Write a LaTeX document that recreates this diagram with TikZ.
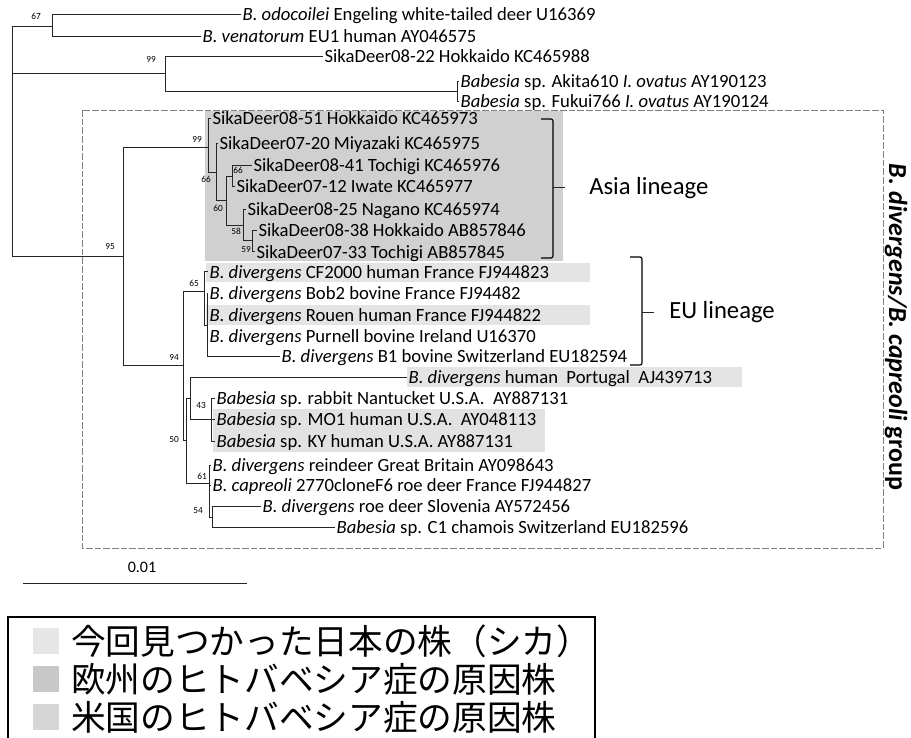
\documentclass[tikz,border=0pt]{standalone}
\usepackage{fontspec}
\setmainfont{Carlito}
\newfontfamily\jpfont{Noto Sans CJK JP}
\usetikzlibrary{positioning}
\definecolor{asiagray}{HTML}{D0D0D0}
\definecolor{eugray}{HTML}{E4E4E4}
\definecolor{usgray}{HTML}{E2E2E2}
\definecolor{keyjp}{HTML}{E6E6E6}
\definecolor{keyeu}{HTML}{C8C8C8}
\definecolor{keyus}{HTML}{D6D6D6}

\begin{document}
\begin{tikzpicture}[
  x=0.75pt, y=-0.75pt,
  taxon/.style={anchor=west, inner xsep=1pt, inner ysep=0pt,
                text height=9pt, text depth=0pt, font=\fontsize{14}{16}\selectfont},
  boot/.style={inner sep=0pt, font=\fontsize{7}{8}\selectfont},
  branch/.style={line width=0.75pt, draw=black!85},
  lineage/.style={anchor=west, inner sep=0pt, font=\fontsize{18.5}{20}\selectfont},
  brace/.style={line width=0.9pt, rounded corners=1.5pt},
  keybox/.style={minimum size=19pt, inner sep=0pt, draw=none},
  keytext/.style={anchor=west, inner sep=0pt, font=\jpfont\fontsize{26}{28}\selectfont}
]
\useasboundingbox (0,0) rectangle (911,738);

% highlighted strains
\fill[asiagray] (205,111) rectangle (563,261);
\fill[eugray] (206,263) rectangle (590,282);
\fill[eugray] (206,305) rectangle (590,325);
\fill[eugray] (407,367) rectangle (742,387);
\fill[usgray] (213,409) rectangle (545,452);

% group frame
\draw[gray, dash pattern=on 5pt off 1.5pt, line width=0.5pt] (82,110) rectangle (883,548);

% internal nodes
\coordinate (root) at (12,143);
\coordinate (n67) at (52,27);
\coordinate (n99b) at (165,74);
\coordinate (nbab) at (457,92);
\coordinate (n95) at (123,257);
\coordinate (nasia) at (208,148);
\coordinate (n66a) at (216,173);
\coordinate (n60) at (226,201);
\coordinate (n66b) at (232,177);
\coordinate (n58) at (243,226);
\coordinate (n59) at (252,241);
\coordinate (n94) at (183,365);
\coordinate (n65) at (204,292);
\coordinate (neu) at (207,325);
\coordinate (n50) at (186,440);
\coordinate (nx) at (190,398);
\coordinate (n43) at (211,419);
\coordinate (n61) at (209,483);
\coordinate (n54) at (212,517);

% taxa
\node[taxon] (odo) at (241,15) {\textit{B. odocoilei} Engeling white-tailed deer U16369};
\node[taxon] (ven) at (201,37) {\textit{B. venatorum} EU1 human AY046575};
\node[taxon] (sd0822) at (323,57) {SikaDeer08-22 Hokkaido KC465988};
\node[taxon] (akita) at (459,82) {\textit{Babesia} sp. Akita610 \textit{I. ovatus} AY190123};
\node[taxon] (fukui) at (459,102) {\textit{Babesia} sp. Fukui766 \textit{I. ovatus} AY190124};
\node[taxon] (sd0851) at (211,119) {SikaDeer08-51 Hokkaido KC465973};
\node[taxon] (sd0720) at (218,144) {SikaDeer07-20 Miyazaki KC465975};
\node[taxon] (sd0841) at (252,166) {SikaDeer08-41 Tochigi KC465976};
\node[taxon] (sd0712) at (235,187) {SikaDeer07-12 Iwate KC465977};
\node[taxon] (sd0825) at (246,210) {SikaDeer08-25 Nagano KC465974};
\node[taxon] (sd0838) at (257,231) {SikaDeer08-38 Hokkaido AB857846};
\node[taxon] (sd0733) at (255,252) {SikaDeer07-33 Tochigi AB857845};
\node[taxon] (cf2000) at (208,272) {\textit{B. divergens} CF2000 human France FJ944823};
\node[taxon] (bob2) at (208,294) {\textit{B. divergens} Bob2 bovine France FJ94482};
\node[taxon] (rouen) at (208,315) {\textit{B. divergens} Rouen human France FJ944822};
\node[taxon] (purnell) at (208,336) {\textit{B. divergens} Purnell bovine Ireland U16370};
\node[taxon] (b1) at (280,356) {\textit{B. divergens} B1 bovine Switzerland EU182594};
\node[taxon] (port) at (407,377) {\textit{B. divergens} human\ \ Portugal\ \ AJ439713};
\node[taxon] (rabbit) at (215,398) {\textit{Babesia} sp. rabbit Nantucket U.S.A.\ \ AY887131};
\node[taxon] (mo1) at (215,419) {\textit{Babesia} sp. MO1 human U.S.A.\ \ AY048113};
\node[taxon] (ky) at (215,441) {\textit{Babesia} sp. KY human U.S.A. AY887131};
\node[taxon] (reindeer) at (211,465) {\textit{B. divergens} reindeer Great Britain AY098643};
\node[taxon] (capreoli) at (211,485) {\textit{B. capreoli} 2770cloneF6 roe deer France FJ944827};
\node[taxon] (slov) at (261,506) {\textit{B. divergens} roe deer Slovenia AY572456};
\node[taxon] (c1) at (335,527) {\textit{Babesia} sp. C1 chamois Switzerland EU182596};

% branches
\foreach \p/\c in {root/n67, root/n99b, root/n95, n67/odo, n67/ven,
    n99b/sd0822, n99b/nbab, nbab/akita, nbab/fukui,
    n95/nasia, n95/n94, nasia/sd0851, nasia/n66a,
    n66a/sd0720, n66a/n60, n60/n66b, n60/n58,
    n66b/sd0841, n66b/sd0712, n58/sd0825, n58/n59,
    n59/sd0838, n59/sd0733, n94/n65, n94/n50,
    n65/cf2000, n65/neu, neu/bob2, neu/rouen, neu/purnell, neu/b1,
    n50/nx, n50/n61, nx/port, nx/n43,
    n43/rabbit, n43/mo1, n43/ky,
    n61/reindeer, n61/capreoli, n61/n54, n54/slov, n54/c1}
  \draw[branch] (\p) |- (\c);

% bootstrap values
\node[boot] (b67) at (36,16) {67};
\node[boot] (b99o) at (151,59) {99};
\node[boot] (b99a) at (197,139) {99};
\node[boot] (b66a) at (206,179) {66};
\node[boot] (b66b) at (238,170) {66};
\node[boot] (b60) at (218,208) {60};
\node[boot] (b58) at (236,231) {58};
\node[boot] (b59) at (246,250) {59};
\node[boot] (b95) at (110,247) {95};
\node[boot] (b65) at (194,283) {65};
\node[boot] (b94) at (174,357) {94};
\node[boot] (b43) at (201,406) {43};
\node[boot] (b50) at (174,440) {50};
\node[boot] (b61) at (202,476) {61};
\node[boot] (b54) at (198,511) {54};

% lineages
\draw[brace] (541,119) -- (553,119) -- (553,258) -- (541,258);
\draw[branch] (553,188) -- (565,188);
\node[lineage] (asia) at (589,188) {Asia lineage};
\draw[brace] (630,257) -- (642,257) -- (642,365) -- (630,365);
\draw[branch] (642,312) -- (654,312);
\node[lineage] (eu) at (669,312) {EU lineage};
\node[rotate=-90, inner sep=0pt, font=\bfseries\fontsize{19.5}{21}\selectfont] (grp) at (896,327)
  {\textit{B. divergens/B. capreoli} group};

% scale bar
\coordinate (s0) at (23,583);
\coordinate (s1) at (247,583);
\draw[branch] (s0) -- (s1);
\node[font=\fontsize{12}{14}\selectfont] (sc) at (142,567) {0.01};

% legend
\draw[line width=0.9pt] (8,617) rectangle (595,745);
\node[keybox, fill=keyjp] (kjp) at (46,641) {};
\node[keybox, fill=keyeu] (keu) at (46,679) {};
\node[keybox, fill=keyus] (kus) at (46,717) {};
\node[keytext, right=9pt of kjp] (tjp) {今回見つかった日本の株（シカ）};
\node[keytext, right=9pt of keu] (teu) {欧州のヒトバベシア症の原因株};
\node[keytext, right=9pt of kus] (tus) {米国のヒトバベシア症の原因株};
\end{tikzpicture}
\end{document}
